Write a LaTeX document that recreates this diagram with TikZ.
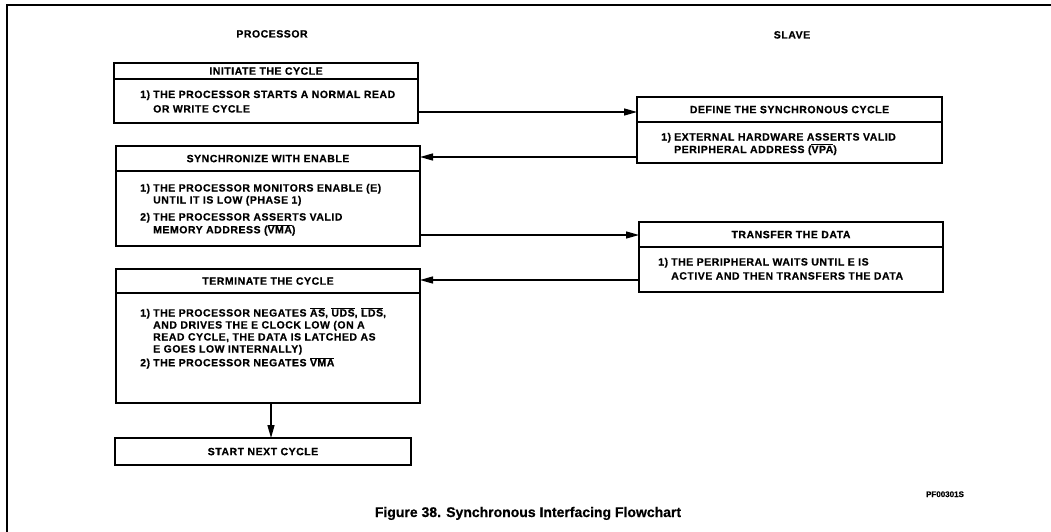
\documentclass[tikz,border=0pt]{standalone}
\usepackage{fontspec}
\setmainfont{Liberation Sans}
\usetikzlibrary{arrows.meta,calc}
\newcommand{\ovl}[1]{\ensuremath{\overline{\mbox{#1}}}}
\newcommand{\nm}[1]{\makebox[13pt][l]{#1}}
\begin{document}
\begin{tikzpicture}[x=1pt,y=-1pt,
  box/.style={draw, line width=1.5pt, inner sep=0pt, outer sep=0pt},
  ln/.style={line width=1.3pt},
  arr/.style={line width=1.3pt, -{Triangle[length=13pt,width=7pt]}},
  txt/.style={inner sep=0pt, font=\fontsize{10.5}{12}\selectfont\bfseries\addfontfeature{LetterSpace=5,FakeBold=0.6}},
  hdr/.style={txt, anchor=base},
  body/.style={txt, anchor=base west, align=left}]
\useasboundingbox (0,0) rectangle (1051,532);
% outer frame (top and left edges)
\coordinate (ftl) at (7,5);
\coordinate (ftr) at (1051,5);
\coordinate (fbl) at (7,532);
\draw[line width=1.3pt] (ftr) -- (ftl) -- (fbl);

% column titles
\node[hdr] (proc) at (272,37.5) {PROCESSOR};
\node[hdr] (slave) at (792,38.5) {SLAVE};

% boxes
\node[box, minimum width=304pt, minimum height=60pt] (b1) at (266,93) {};
\node[box, minimum width=305pt, minimum height=66pt] (def) at (789.5,130) {};
\node[box, minimum width=304pt, minimum height=100pt] (sync) at (268,196) {};
\node[box, minimum width=304pt, minimum height=70pt] (xfer) at (791,257) {};
\node[box, minimum width=304pt, minimum height=134pt] (term) at (268,336) {};
\node[box, minimum width=296pt, minimum height=27pt] (start) at (263,451.5) {};

% dividers
\draw[ln] ([yshift=-16pt]b1.north west) -- ([yshift=-16pt]b1.north east);
\draw[ln] ([yshift=-25pt]def.north west) -- ([yshift=-25pt]def.north east);
\draw[ln] ([yshift=-25pt]sync.north west) -- ([yshift=-25pt]sync.north east);
\draw[ln] ([yshift=-25pt]xfer.north west) -- ([yshift=-25pt]xfer.north east);
\draw[ln] ([yshift=-24pt]term.north west) -- ([yshift=-24pt]term.north east);

% headers
\node[hdr] (h1) at (266,74.7) {INITIATE THE CYCLE};
\node[hdr] (h2) at (789.5,113.2) {DEFINE THE SYNCHRONOUS CYCLE};
\node[hdr] (h3) at (268,162.2) {SYNCHRONIZE WITH ENABLE};
\node[hdr] (h4) at (791,238.2) {TRANSFER THE DATA};
\node[hdr] (h5) at (268,284.7) {TERMINATE THE CYCLE};
\node[hdr] (h6) at (263,455.2) {START NEXT CYCLE};

% bodies
\node[body] (t1) at (140,98) {\fontsize{10.5}{12}\selectfont\begin{tabular}[t]{@{}l@{}l@{}}
\nm{1)}&THE PROCESSOR STARTS A NORMAL READ\\[2.5pt]
&OR WRITE CYCLE\end{tabular}};
\node[body] (t2) at (661,140.5) {\fontsize{10.5}{11}\selectfont\begin{tabular}[t]{@{}l@{}l@{}}
\nm{1)}&EXTERNAL HARDWARE ASSERTS VALID\\
&PERIPHERAL ADDRESS (\ovl{VPA})\end{tabular}};
\node[body] (t3) at (140,191.5) {\fontsize{10.5}{12}\selectfont\begin{tabular}[t]{@{}l@{}l@{}}
\nm{1)}&THE PROCESSOR MONITORS ENABLE (E)\\
&UNTIL IT IS LOW (PHASE 1)\\[5pt]
\nm{2)}&THE PROCESSOR ASSERTS VALID\\
&MEMORY ADDRESS (\ovl{VMA})\end{tabular}};
\node[body] (t4) at (658,265.5) {\fontsize{10.5}{12}\selectfont\begin{tabular}[t]{@{}l@{}l@{}}
\nm{1)}&THE PERIPHERAL WAITS UNTIL E IS\\[2pt]
&ACTIVE AND THEN TRANSFERS THE DATA\end{tabular}};
\node[body] (t5) at (140,316.5) {\fontsize{10.5}{12}\selectfont\begin{tabular}[t]{@{}l@{}l@{}}
\nm{1)}&THE PROCESSOR NEGATES \ovl{AS}, \ovl{UDS}, \ovl{LDS},\\
&AND DRIVES THE E CLOCK LOW (ON A\\
&READ CYCLE, THE DATA IS LATCHED AS\\
&E GOES LOW INTERNALLY)\\[1pt]
\nm{2)}&THE PROCESSOR NEGATES \ovl{VMA}\end{tabular}};

% connectors
\draw[arr] ([yshift=11pt]b1.south east) -- ([yshift=11pt]b1.south east -| def.west);
\draw[arr] ([yshift=6pt]def.south west) -- ([yshift=6pt]def.south west -| sync.east);
\draw[arr] ([yshift=11pt]sync.south east) -- ([yshift=11pt]sync.south east -| xfer.west);
\draw[arr] ([yshift=12pt]xfer.south west) -- ([yshift=12pt]xfer.south west -| term.east);
\draw[arr] ([xshift=3pt]term.south) -- ([xshift=3pt]term.south |- start.north);

% labels
\node[inner sep=0pt, anchor=base, font=\fontsize{8}{9}\selectfont\bfseries\addfontfeature{FakeBold=0.5}] (pf) at (945,497) {PF00301S};
\node[inner sep=0pt, anchor=base, font=\fontsize{14}{16}\selectfont\bfseries\addfontfeature{FakeBold=0.6}] (cap) at (528,517) {Figure 38. Synchronous Interfacing Flowchart};
\end{tikzpicture}
\end{document}
